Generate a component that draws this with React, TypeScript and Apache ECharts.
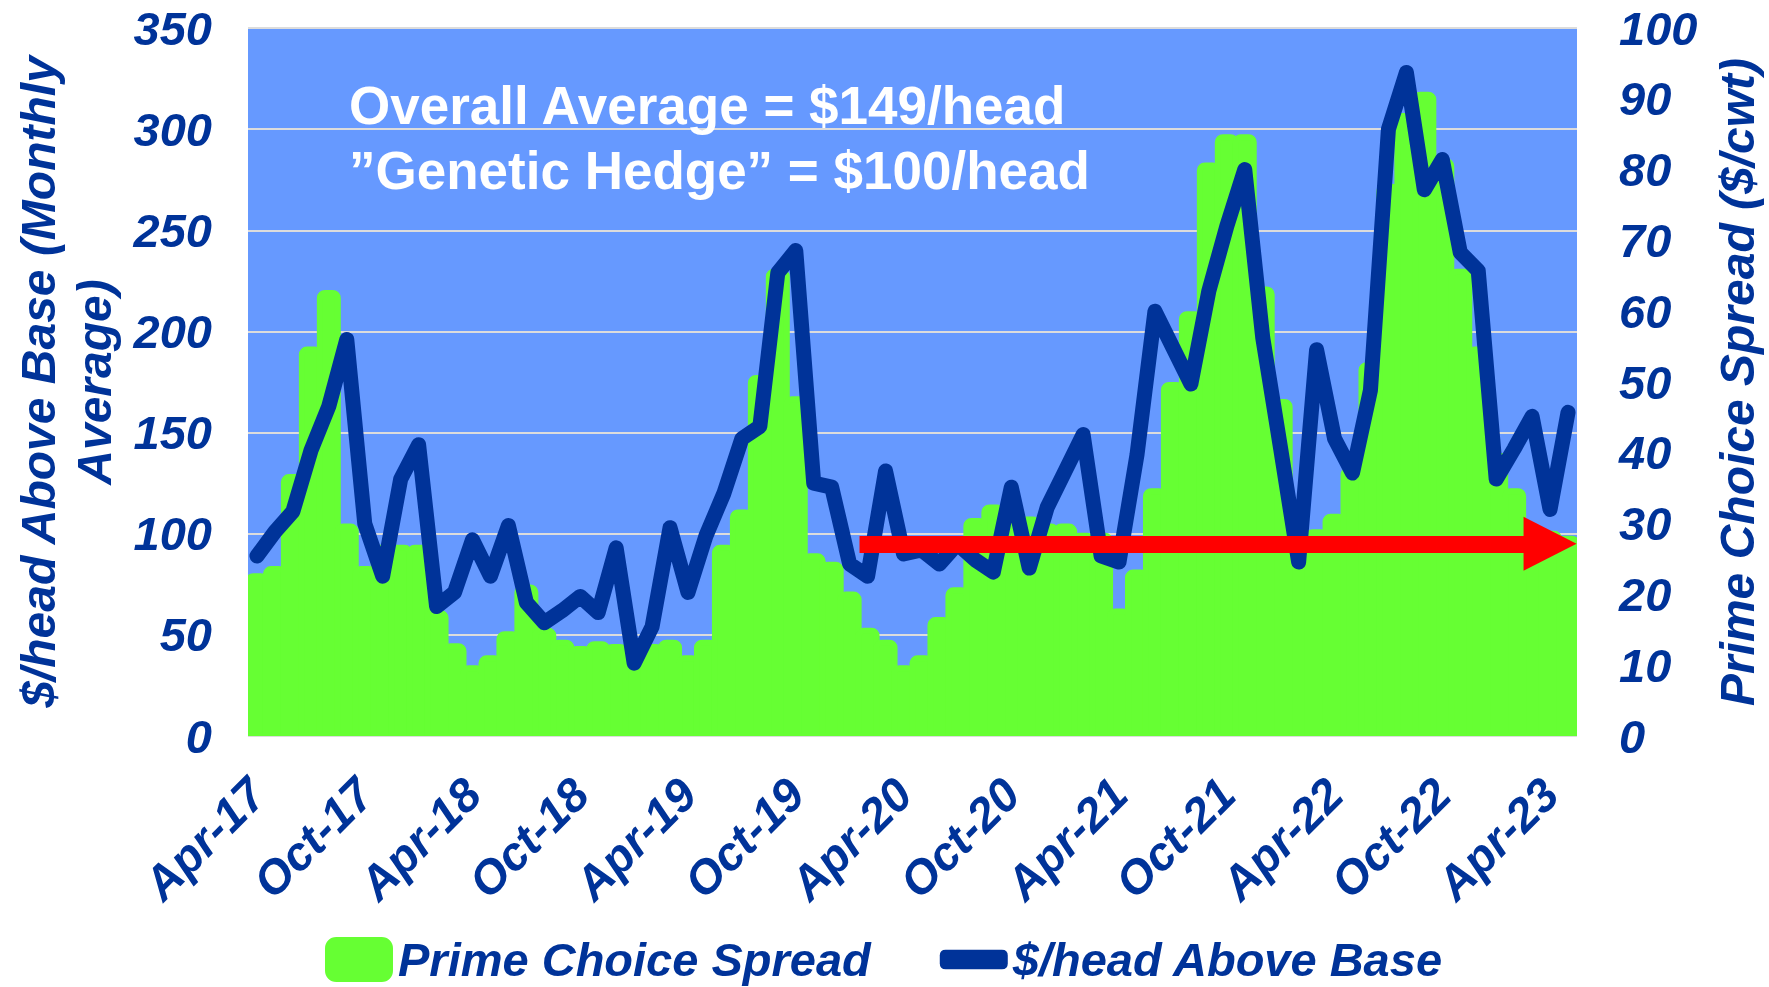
import React, { useEffect, useRef } from "react";
import * as echarts from "echarts";

const categories = [
  "Apr-17", "May-17", "Jun-17", "Jul-17", "Aug-17", "Sep-17", "Oct-17", "Nov-17", "Dec-17",
  "Jan-18", "Feb-18", "Mar-18", "Apr-18", "May-18", "Jun-18", "Jul-18", "Aug-18", "Sep-18", "Oct-18", "Nov-18", "Dec-18",
  "Jan-19", "Feb-19", "Mar-19", "Apr-19", "May-19", "Jun-19", "Jul-19", "Aug-19", "Sep-19", "Oct-19", "Nov-19", "Dec-19",
  "Jan-20", "Feb-20", "Mar-20", "Apr-20", "May-20", "Jun-20", "Jul-20", "Aug-20", "Sep-20", "Oct-20", "Nov-20", "Dec-20",
  "Jan-21", "Feb-21", "Mar-21", "Apr-21", "May-21", "Jun-21", "Jul-21", "Aug-21", "Sep-21", "Oct-21", "Nov-21", "Dec-21",
  "Jan-22", "Feb-22", "Mar-22", "Apr-22", "May-22", "Jun-22", "Jul-22", "Aug-22", "Sep-22", "Oct-22", "Nov-22", "Dec-22",
  "Jan-23", "Feb-23", "Mar-23", "Apr-23", "May-23",
];

// Prime Choice Spread ($/cwt), right axis
const primeChoiceSpread = [
  23, 24, 37, 55, 63, 30, 24, 27, 27, 27,
  17.8, 13.1, 10, 11.4, 14.8, 21.4, 15.3, 13.6, 12.7, 13.4,
  13, 12.9, 13, 13.6, 11.4, 13.6, 27, 32, 51, 66,
  48, 25.8, 24.6, 20.4, 15.3, 13.6, 10, 11.4, 16.8, 21,
  30.8, 32.7, 31, 31, 30, 30, 28.7, 28.7, 18, 23.5,
  35, 50, 60, 81, 85, 85, 63.5, 47.6, 25, 29.2,
  31.4, 38, 52.8, 78, 88, 91, 81.6, 66, 55, 40,
  35, 29.6, 29, 28.3,
];

// $/head Above Base (monthly average), left axis
const headAboveBase = [
  89, 101, 111, 141, 163, 196, 105, 79, 127, 144,
  64, 71, 97, 79, 104, 66, 56, 62, 69, 61,
  93, 36, 54, 103, 71, 99, 120, 147, 153, 229,
  240, 125, 123, 85, 79, 131, 90, 92, 85, 95,
  87, 81, 123, 83, 113, 131, 149, 89, 86, 139,
  210, 192, 174, 220, 252, 280, 197, 142, 86, 191,
  147, 130, 171, 300, 328, 270, 285, 239, 230, 127,
  142, 158, 112, 160,
];

const leftAxis = { min: 0, max: 350, interval: 50 };
const rightAxis = { min: 0, max: 100, interval: 10 };

const annotationLines = ["Overall Average = $149/head", "\u201DGenetic Hedge\u201D = $100/head"];

// red arrow ("genetic hedge" level), in category-position units on a hidden value axis
const arrowLevel = 95;
const arrowFrom = 33.55;
const arrowTo = 72.0;

const NAVY = "#003399";
const GREEN = "#66ff33";
const BLUE = "#6699ff";
const FONT = '"Liberation Sans", Arial, Helvetica, sans-serif';
const BAR_STROKE = 6;

const axisText = {
  color: NAVY,
  fontSize: 47,
  fontWeight: "bold" as const,
  fontStyle: "italic" as const,
  fontFamily: FONT,
};

export default function App() {
  const ref = useRef<HTMLDivElement>(null);

  useEffect(() => {
    if (!ref.current) return;
    const chart = echarts.init(ref.current, null, { renderer: "svg" });
    chart.setOption({
      animation: false,
      grid: {
        left: 248,
        right: 192,
        top: 28,
        bottom: 251,
        show: true,
        backgroundColor: BLUE,
        borderWidth: 0,
      },
      legend: {
        left: 320,
        top: 931,
        itemWidth: 68,
        itemHeight: 45,
        itemGap: 69,
        selectedMode: false,
        textStyle: { ...axisText },
        data: [
          { name: "Prime Choice Spread", icon: "roundRect", itemStyle: { color: GREEN } },
          {
            name: "$/head Above Base",
            icon: "path://M6,0H64Q70,0 70,6V14Q70,20 64,20H6Q0,20 0,14V6Q0,0 6,0Z",
            itemStyle: { color: NAVY },
          },
        ],
      },
      xAxis: [
        {
          type: "category",
          data: categories,
          boundaryGap: true,
          axisLine: { show: false },
          axisTick: { show: false },
          axisLabel: { ...axisText, interval: 5, rotate: 45, margin: 50 },
        },
        { type: "value", min: -0.5, max: 73.5, show: false },
      ],
      yAxis: [
        {
          type: "value",
          position: "left",
          min: leftAxis.min,
          max: leftAxis.max,
          interval: leftAxis.interval,
          name: "$/head Above Base (Monthly\nAverage)",
          nameLocation: "middle",
          nameRotate: 90,
          nameGap: 124,
          nameTextStyle: { ...axisText, fontSize: 48, lineHeight: 56, align: "center" },
          axisLine: { show: false },
          axisTick: { show: false },
          axisLabel: { ...axisText, margin: 36 },
          splitLine: { show: true, lineStyle: { color: "#dcdcdc", width: 2 } },
        },
        {
          type: "value",
          position: "right",
          min: rightAxis.min,
          max: rightAxis.max,
          interval: rightAxis.interval,
          name: "Prime Choice Spread ($/cwt)",
          nameLocation: "middle",
          nameRotate: 90,
          nameGap: 136,
          nameTextStyle: { ...axisText, fontSize: 48, lineHeight: 48 },
          axisLine: { show: false },
          axisTick: { show: false },
          axisLabel: { ...axisText, margin: 42 },
          splitLine: { show: false },
        },
      ],
      series: [
        {
          name: "Prime Choice Spread",
          type: "custom",
          xAxisIndex: 0,
          yAxisIndex: 1,
          data: primeChoiceSpread.map((v, i) => [i, v]),
          encode: { x: 0, y: 1 },
          clip: true,
          silent: true,
          z: 2,
          itemStyle: { color: GREEN },
          renderItem: (_params: any, api: any) => {
            const idx = api.value(0);
            const v = api.value(1);
            const top = api.coord([idx, v]);
            const base = api.coord([idx, 0]);
            const w = api.size([1, 0])[0];
            const half = BAR_STROKE / 2;
            return {
              type: "rect",
              shape: {
                x: top[0] - w / 2,
                y: top[1] + half,
                width: w,
                height: Math.max(0, base[1] - top[1] - half),
                r: [5, 5, 0, 0],
              },
              style: { fill: GREEN, stroke: GREEN, lineWidth: BAR_STROKE, lineJoin: "round" },
            };
          },
        },
        {
          name: "$/head Above Base",
          type: "line",
          xAxisIndex: 0,
          yAxisIndex: 0,
          data: headAboveBase,
          symbol: "none",
          lineStyle: { color: NAVY, width: 15, cap: "round", join: "round" },
          itemStyle: { color: NAVY },
          silent: true,
          z: 3,
        },
        {
          name: "hedge-arrow",
          type: "line",
          xAxisIndex: 1,
          yAxisIndex: 0,
          data: [],
          silent: true,
          z: 4,
          markLine: {
            silent: true,
            animation: false,
            label: { show: false },
            emphasis: { disabled: true },
            lineStyle: { color: "#ff0000", width: 17, type: "solid", opacity: 1 },
            symbol: ["none", "triangle"],
            data: [
              [
                { coord: [arrowFrom, arrowLevel], symbol: "none" },
                { coord: [arrowTo, arrowLevel], symbol: "triangle", symbolSize: [54, 53] },
              ],
            ],
          },
        },
      ],
      graphic: annotationLines.map((t, i) => ({
        type: "text",
        x: 349,
        y: 105 + i * 65,
        silent: true,
        z: 10,
        style: {
          text: t,
          fill: "#ffffff",
          fontSize: 53,
          fontWeight: "bold",
          fontFamily: FONT,
          align: "left",
          verticalAlign: "middle",
        },
      })),
    });
    return () => chart.dispose();
  }, []);

  return (
    <div
      ref={ref}
      style={{ position: "fixed", left: 0, top: 0, width: 1769, height: 987 }}
    />
  );
}
